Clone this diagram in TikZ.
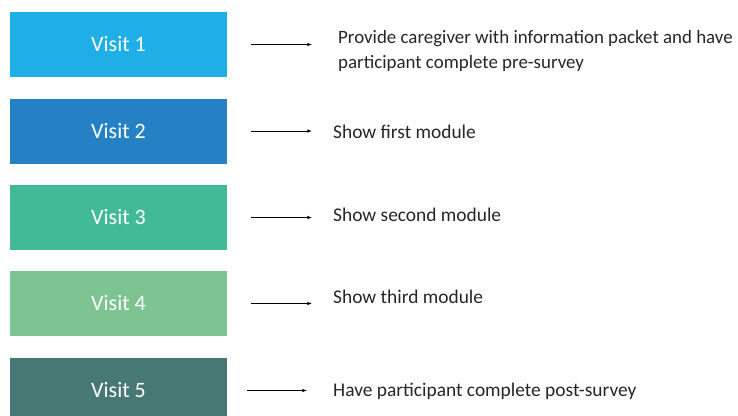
\documentclass[tikz,border=0pt]{standalone}
\usepackage{fontspec}
\setmainfont{Carlito}
\usetikzlibrary{arrows.meta}
\definecolor{visitA}{HTML}{1FAEE6}
\definecolor{visitB}{HTML}{2681C4}
\definecolor{visitC}{HTML}{42BA96}
\definecolor{visitD}{HTML}{7EC492}
\definecolor{visitE}{HTML}{477874}
\tikzset{
  visit/.style={rectangle,minimum width=217bp,minimum height=65bp,inner sep=0pt,
    text=white,font=\fontsize{22bp}{26bp}\selectfont},
  note/.style={anchor=west,inner sep=0pt,align=left,text=black!85,
    font=\fontsize{19.4bp}{25bp}\selectfont},
  link/.style={-{Latex[length=4.5bp,width=3.5bp]},line width=0.8bp}
}
\begin{document}
\begin{tikzpicture}[x=1bp,y=-1bp]
\useasboundingbox (0,0) rectangle (738,415);
\clip (0,0) rectangle (738,415);
% visit boxes
\node[visit,fill=visitA] (visit1) at (118.5,44.5) {Visit 1};
\node[visit,fill=visitB] (visit2) at (118.5,131) {Visit 2};
\node[visit,fill=visitC] (visit3) at (118.5,217.5) {Visit 3};
\node[visit,fill=visitD] (visit4) at (118.5,303.5) {Visit 4};
\node[visit,fill=visitE] (visit5) at (118.5,390.5) {Visit 5};
% what happens at each visit
\node[note,font=\fontsize{18.9bp}{25bp}\selectfont] (note1) at (338,50.5) {Provide caregiver with information packet and have\\participant complete pre-survey};
\node[note] (note2) at (333,131.5) {Show first module};
\node[note] (note3) at (333,214.5) {Show second module};
\node[note] (note4) at (333,296.5) {Show third module};
\node[note] (note5) at (333,391.5) {Have participant complete post-survey};
% arrows
\draw[link] ([xshift=24]visit1.east) -- ([xshift=85]visit1.east);
\draw[link] ([xshift=24]visit2.east) -- ([xshift=85]visit2.east);
\draw[link] ([xshift=24]visit3.east) -- ([xshift=85]visit3.east);
\draw[link] ([xshift=24]visit4.east) -- ([xshift=85]visit4.east);
\draw[link] ([xshift=20]visit5.east) -- ([xshift=80]visit5.east);
\end{tikzpicture}
\end{document}
